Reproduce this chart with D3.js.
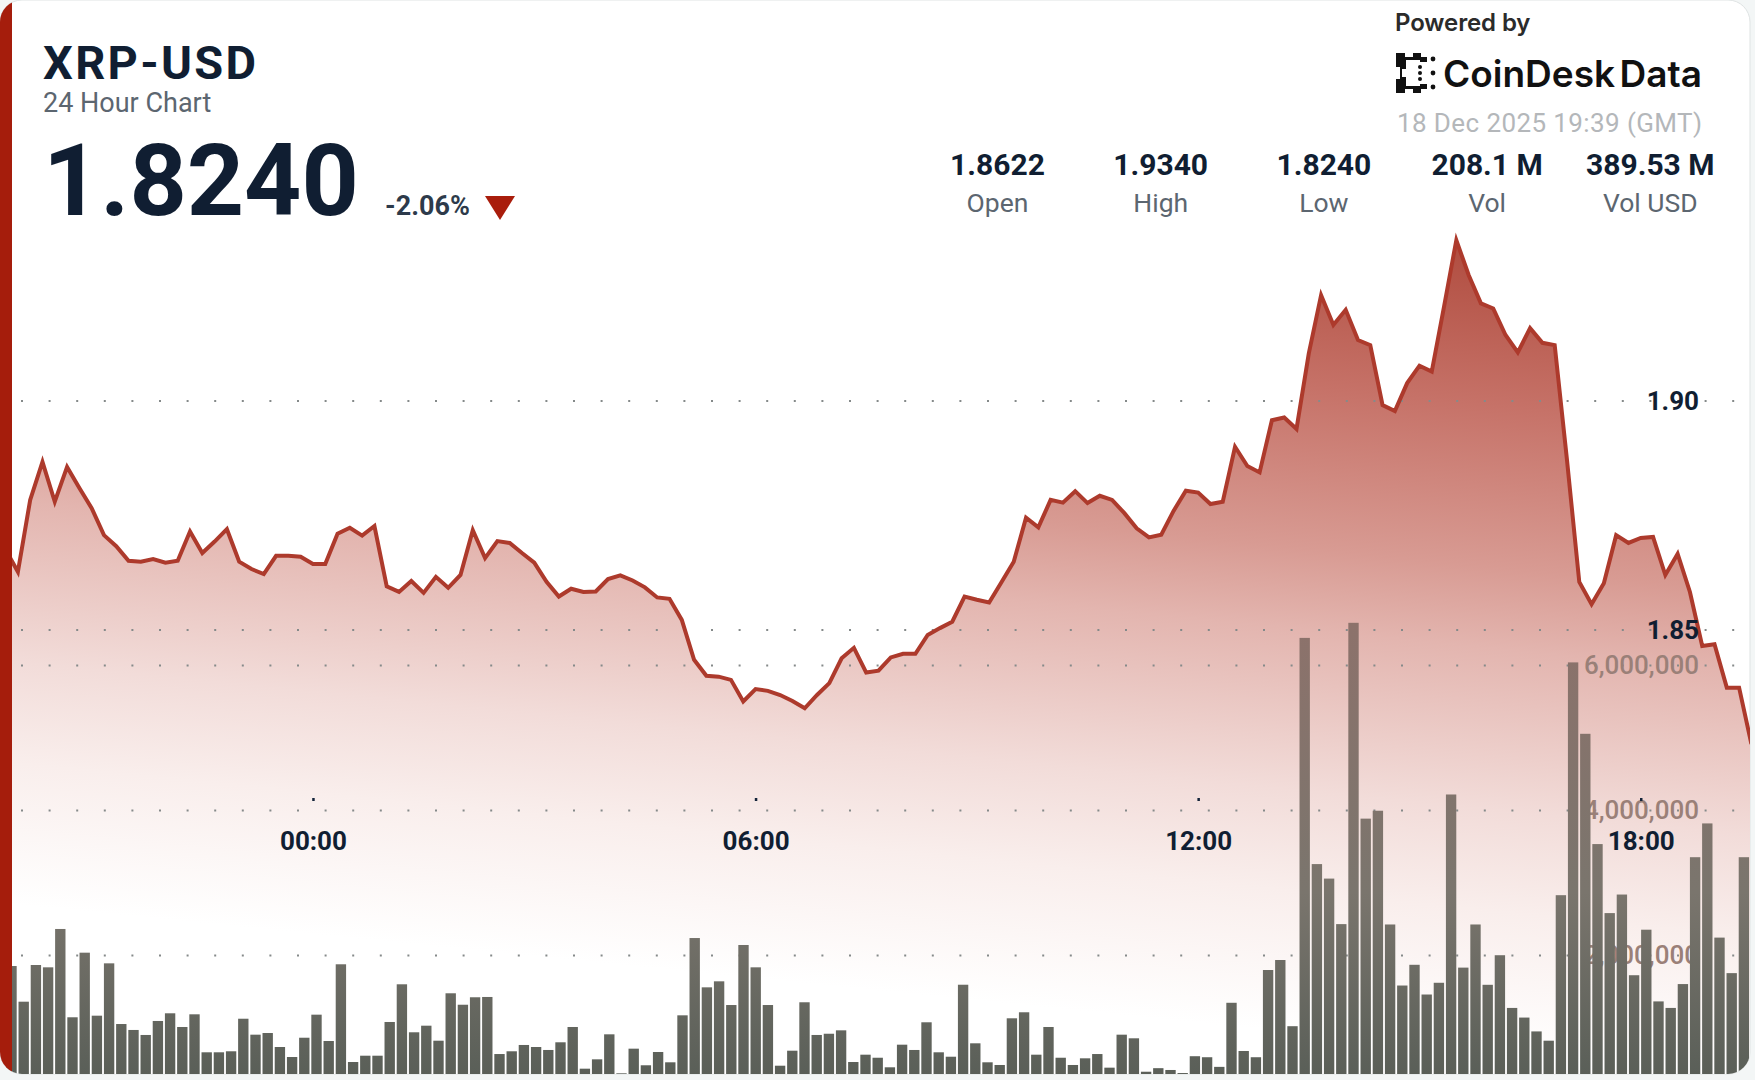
<!DOCTYPE html>
<html>
<head>
<meta charset="utf-8">
<title>XRP-USD</title>
<script src="https://cdn.jsdelivr.net/npm/d3@7"></script>
<style>
body { margin: 0; background: #f3f6f6; }
svg { display: block; font-family: Roboto, sans-serif; }
.dark { fill: #101e32; }
.grey { fill: #5c6670; }
.grid line { stroke: #858a8a; stroke-width: 2; stroke-dasharray: 2 25.6; }
.grid path, .axis path { display: none; }
.axis text { font-family: Roboto, sans-serif; font-size: 26px; font-weight: 700; }
</style>
</head>
<body>
<svg id="chart" width="1755" height="1080"></svg>
<script>
var price = [
  1.8674, 1.8626, 1.8783, 1.8866, 1.8779, 1.8855, 1.8809, 1.8765, 1.8706, 1.8682,
  1.8650, 1.8648, 1.8654, 1.8646, 1.8650, 1.8714, 1.8667, 1.8692, 1.8719, 1.8648,
  1.8632, 1.8621, 1.8661, 1.8661, 1.8659, 1.8643, 1.8643, 1.8709, 1.8722, 1.8705,
  1.8726, 1.8594, 1.8582, 1.8606, 1.8580, 1.8615, 1.8591, 1.8619, 1.8717, 1.8656,
  1.8693, 1.8689, 1.8667, 1.8646, 1.8604, 1.8572, 1.8589, 1.8582, 1.8583, 1.8610,
  1.8618, 1.8607, 1.8592, 1.8570, 1.8567, 1.8521, 1.8434, 1.8399, 1.8397, 1.8390,
  1.8343, 1.8370, 1.8366, 1.8357, 1.8344, 1.8328, 1.8357, 1.8383, 1.8437, 1.8460,
  1.8406, 1.8410, 1.8439, 1.8447, 1.8447, 1.8488, 1.8503, 1.8517, 1.8572, 1.8565,
  1.8559, 1.8603, 1.8648, 1.8744, 1.8723, 1.8783, 1.8777, 1.8802, 1.8776, 1.8792,
  1.8783, 1.8754, 1.8721, 1.8701, 1.8707, 1.8759, 1.8803, 1.8799, 1.8774, 1.8779,
  1.8899, 1.8857, 1.8843, 1.8957, 1.8963, 1.8938, 1.9103, 1.9230, 1.9165, 1.9198,
  1.9132, 1.9121, 1.8990, 1.8977, 1.9038, 1.9076, 1.9063, 1.9205, 1.9350, 1.9274,
  1.9212, 1.9201, 1.9143, 1.9105, 1.9158, 1.9126, 1.9121, 1.8870, 1.8604, 1.8555,
  1.8601, 1.8706, 1.8689, 1.8700, 1.8702, 1.8619, 1.8665, 1.8582, 1.8464, 1.8468,
  1.8373, 1.8373, 1.8250
];

var volume = [
  1848, 1356, 1862, 1830, 2359, 1141, 2032, 1163, 1885, 1048,
  966, 897, 1090, 1196, 1007, 1182, 658, 658, 672, 1121,
  901, 924, 731, 593, 859, 1177, 814, 1872, 524, 611,
  611, 1076, 1596, 934, 1025, 818, 1472, 1314, 1417, 1421,
  634, 672, 759, 731, 690, 796, 1007, 432, 561, 906,
  368, 708, 479, 662, 520, 1168, 2234, 1554, 1637, 1310,
  2138, 1830, 1310, 473, 680, 1348, 897, 914, 961, 524,
  625, 583, 451, 763, 690, 1072, 658, 597, 1590, 782,
  520, 483, 1127, 1210, 625, 1007, 583, 483, 575, 634,
  446, 901, 851, 390, 439, 414, 372, 604, 590, 457,
  1341, 676, 590, 1793, 1931, 1018, 6374, 3254, 3054, 2426,
  6582, 3881, 3990, 2421, 1579, 1865, 1455, 1617, 4214, 1826,
  2421, 1589, 1997, 1270, 1137, 946, 818, 2825, 6036, 5051,
  3530, 2578, 2834, 1721, 2349, 1360, 1270, 1599, 3349, 3815,
  2240, 1750, 3349
].map(function (d) { return d * 1000 })

var priceTicks = [1.85, 1.90]
var volumeTicks = [2000000, 4000000, 6000000]
var statValues = ['1.8622', '1.9340', '1.8240', '208.1 M', '389.53 M']
var statLabels = ['Open', 'High', 'Low', 'Vol', 'Vol USD']

var startTime = Date.UTC(2025, 11, 17, 19, 50)
var stepMs = 10 * 60 * 1000
var bottom = 1074

var svg = d3.select('#chart')
var defs = svg.append('defs')

defs.append('clipPath').attr('id', 'card')
  .append('rect')
  .attr('width', 1750).attr('height', bottom).attr('rx', 22)

var areaGrad = defs.append('linearGradient')
  .attr('id', 'areaGrad')
  .attr('gradientUnits', 'userSpaceOnUse')
  .attr('x1', 1450).attr('y1', 240)
  .attr('x2', 1370).attr('y2', 1040)
areaGrad.selectAll('stop')
  .data([[0, '#b04c3f'], [.2, '#c67268'], [.4, '#d89b93'], [.5, '#e3b5af'], [.7, '#f2dcd9'], [.825, '#f9eeec'], [1, '#ffffff']])
  .enter().append('stop')
  .attr('offset', function (d) { return d[0] })
  .attr('stop-color', function (d) { return d[1] })

var barGrad = defs.append('linearGradient')
  .attr('id', 'barGrad')
  .attr('gradientUnits', 'userSpaceOnUse')
  .attr('x1', 0).attr('y1', 620)
  .attr('x2', 0).attr('y2', bottom)
barGrad.selectAll('stop')
  .data([[0, '#8d726b'], [.6, '#7a756d'], [1, '#5a5f58']])
  .enter().append('stop')
  .attr('offset', function (d) { return d[0] })
  .attr('stop-color', function (d) { return d[1] })

// scales
var x = d3.scaleUtc()
  .domain([startTime, startTime + 142 * stepMs])
  .range([5.6, 1751.4])
var barX = d3.scaleBand()
  .domain(d3.range(volume.length))
  .range([5.4, 1750])
  .paddingInner(.15)
  .paddingOuter(.075)
var y = d3.scaleLinear().domain([1.85, 1.90]).range([629.5, 400.5])
var yVol = d3.scaleLinear().domain([0, 6000000]).range([1100, 665])

// card
svg.append('rect')
  .attr('width', 1750).attr('height', bottom).attr('rx', 22)
  .attr('fill', '#fff')
  .attr('stroke', '#dfe3e3')

var plot = svg.append('g').attr('clip-path', 'url(#card)')

var area = d3.area()
  .x(function (d, i) { return x(startTime + i * stepMs) })
  .y0(bottom)
  .y1(function (d) { return y(d) })
var line = d3.line()
  .x(function (d, i) { return x(startTime + i * stepMs) })
  .y(function (d) { return y(d) })

plot.append('path').datum(price)
  .attr('d', area)
  .attr('fill', 'url(#areaGrad)')

// dotted grid
function grid(scale, ticks) {
  plot.append('g')
    .attr('class', 'grid')
    .attr('transform', 'translate(21,0)')
    .call(d3.axisRight(scale).tickValues(ticks).tickSize(1720).tickFormat(''))
}
grid(y, priceTicks)
grid(yVol, volumeTicks)

// volume labels sit under the bars
plot.append('g')
  .attr('class', 'axis')
  .attr('transform', 'translate(1699,0)')
  .call(d3.axisLeft(yVol).tickValues(volumeTicks).tickSize(0).tickPadding(0).tickFormat(d3.format(',')))
  .selectAll('text')
  .attr('fill', '#9a8078')
  .style('font-weight', 500)

plot.selectAll('.bar')
  .data(volume)
  .enter().append('rect')
  .attr('class', 'bar')
  .attr('x', function (d, i) { return barX(i) })
  .attr('y', function (d) { return yVol(d) })
  .attr('width', barX.bandwidth())
  .attr('height', function (d) { return yVol(0) - yVol(d) })
  .attr('fill', 'url(#barGrad)')

plot.append('path').datum(price)
  .attr('d', line)
  .attr('fill', 'none')
  .attr('stroke', '#ad3a2c')
  .attr('stroke-width', 4)

plot.append('rect')
  .attr('width', 12).attr('height', bottom)
  .attr('fill', '#a51d0c')

// price labels
svg.append('g')
  .attr('class', 'axis')
  .attr('transform', 'translate(1699,1)')
  .call(d3.axisLeft(y).tickValues(priceTicks).tickSize(0).tickPadding(0).tickFormat(d3.format('.2f')))
  .selectAll('text')
  .attr('class', 'dark')

// time axis
var timeAxis = svg.append('g')
  .attr('class', 'axis')
  .attr('transform', 'translate(0,798)')
  .call(d3.axisBottom(x).ticks(d3.utcHour.every(6)).tickSize(3).tickPadding(31).tickFormat(d3.utcFormat('%H:%M')))
timeAxis.selectAll('line').attr('stroke', '#14243a').attr('stroke-width', 2.5)
timeAxis.selectAll('text').attr('class', 'dark')

// header
function label(text, px, py, size, weight, cls, anchor) {
  return svg.append('text')
    .attr('x', px).attr('y', py)
    .attr('font-size', size)
    .attr('font-weight', weight)
    .attr('class', cls)
    .attr('text-anchor', anchor || 'start')
    .text(text)
}
label('XRP-USD', 43, 79, 47, 700, 'dark').attr('letter-spacing', 2.3)
label('24 Hour Chart', 43, 112, 27, 400, 'grey')
label('1.8240', 43, 215, 100, 700, 'dark')
label('-2.06%', 385, 215, 27, 700, 'dark').attr('fill-opacity', .88)

svg.append('path')
  .attr('d', d3.line()([[485, 196], [515, 196], [500, 220]]) + 'Z')
  .attr('fill', '#a91d0c')

statValues.forEach(function (v, i) {
  label(v, 997.5 + i * 163.2, 175, 30, 700, 'dark', 'middle')
  label(statLabels[i], 997.5 + i * 163.2, 212, 26.5, 400, 'grey', 'middle')
})

label('Powered by', 1395, 31, 24, 600, '').attr('fill', '#2b2b2b').style('font-family', 'Inter').attr('letter-spacing', -.1)
label('CoinDesk Data', 1443, 87, 37, 600, '').attr('fill', '#111').style('font-family', 'Inter').attr('letter-spacing', 0).attr('word-spacing', -5)
label('18 Dec 2025 19:39 (GMT)', 1397, 132, 26, 400, '').attr('fill', '#b4b7ba').attr('letter-spacing', .4)

// logo
var logo = svg.append('g').attr('fill', '#111').attr('transform', 'translate(1396,53)')
logo.append('path')
  .attr('d', 'M0 0H9V4H17V0H25V4H31V9H24V7H10V16H6V24H10V33H24V31H31V36H25V40H17V36H9V40H0V26H4V14H0Z')
d3.range(3).forEach(function (i) {
  logo.append('circle').attr('cx', 37).attr('cy', 6 + i * 14).attr('r', 2.4)
  logo.append('circle').attr('cx', 24).attr('cy', 14 + i * 6).attr('r', 2)
})
</script>
</body>
</html>
